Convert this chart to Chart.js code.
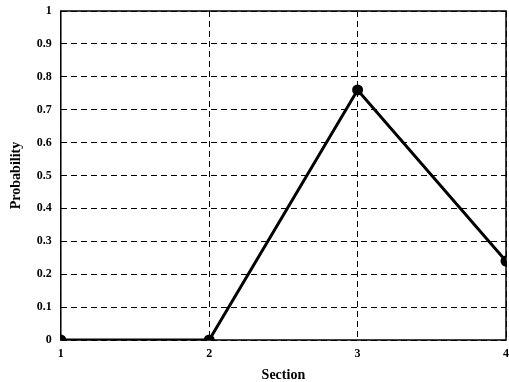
<!DOCTYPE html>
<html><head><meta charset="utf-8">
<script src="https://cdn.jsdelivr.net/npm/chart.js@4/dist/chart.umd.min.js"></script>
<style>html,body{margin:0;padding:0;background:#fff;overflow:hidden}#wrap{width:513px;height:382px}</style>
</head><body><div id="wrap"><canvas id="c"></canvas></div>
<script>
const sections = [1, 2, 3, 4];
const probability = [0, 0, 0.76, 0.24];
const yTicks = [0, 0.1, 0.2, 0.3, 0.4, 0.5, 0.6, 0.7, 0.8, 0.9, 1];
const xTitle = 'Section';
const yTitle = 'Probability';

const boxPlugin = {
  id: 'box',
  afterDatasetsDraw(chart) {
    const a = chart.chartArea, ctx = chart.ctx;
    ctx.save();
    ctx.strokeStyle = '#000';
    ctx.lineWidth = 1.5;
    ctx.strokeRect(a.left, a.top, a.right - a.left, a.bottom - a.top);
    ctx.restore();
  }
};

const family = '"Liberation Serif", "Times New Roman", serif';
const font = {family: family, weight: 'bold', size: 12};

new Chart(document.getElementById('c'), {
  type: 'line',
  data: {
    datasets: [{
      data: sections.map((s, i) => ({x: s, y: probability[i]})),
      borderColor: '#000',
      backgroundColor: '#000',
      borderWidth: 3,
      pointRadius: 4,
      pointStyle: 'circle',
      tension: 0
    }]
  },
  options: {
    responsive: true,
    maintainAspectRatio: false,
    animation: false,
    layout: {padding: {top: 11, right: 0, left: 8, bottom: 0}},
    plugins: {legend: {display: false}, tooltip: {enabled: false}},
    scales: {
      x: {
        type: 'linear', min: 1, max: 4,
        afterBuildTicks(s) { s.ticks = sections.map(v => ({value: v})); },
        afterFit(s) { s.paddingLeft = 0; s.paddingRight = 0; },
        ticks: {color: '#000', font: {family: family, weight: 'bold', size: 12, lineHeight: 1}, padding: 8, maxRotation: 0},
        grid: {color: '#000', lineWidth: 1, drawTicks: false},
        border: {display: false, dash: [6, 4]},
        title: {display: true, text: xTitle, color: '#000', font: {family: family, weight: 'bold', size: 14, lineHeight: 1}, padding: {top: 0, bottom: 0}}
      },
      y: {
        min: 0, max: 1,
        afterBuildTicks(s) { s.ticks = yTicks.map(v => ({value: v})); },
        afterFit(s) { s.paddingTop = 0; s.paddingBottom = 0; },
        ticks: {color: '#000', font: font, padding: 9, callback: v => String(v)},
        grid: {color: '#000', lineWidth: 1, drawTicks: false},
        border: {display: false, dash: [6, 4]},
        title: {display: true, text: yTitle, color: '#000', font: {family: family, weight: 'bold', size: 14}, padding: {top: 0, bottom: 3}}
      }
    }
  },
  plugins: [boxPlugin]
});
</script></body></html>
